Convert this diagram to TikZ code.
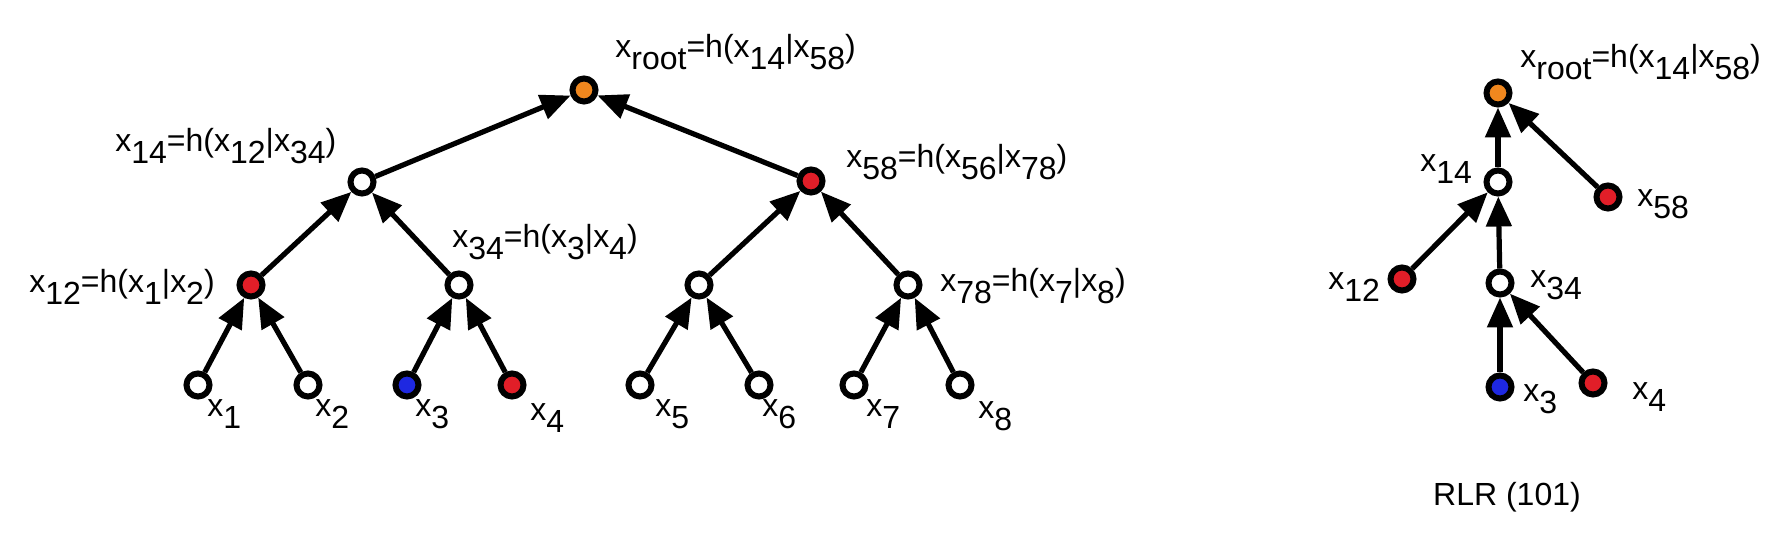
\documentclass[tikz,border=0pt]{standalone}
\usepackage{fontspec}
\setmainfont{Liberation Sans}
\usetikzlibrary{arrows.meta}
\definecolor{nred}{RGB}{225,30,40}
\definecolor{norange}{RGB}{240,135,30}
\definecolor{nblue}{RGB}{30,40,225}
\newcommand\sbs[1]{\raisebox{-0.35em}{#1}}
\begin{document}
\begin{tikzpicture}[x=0.5pt,y=-0.5pt,
  vtx/.style={circle,draw=black,line width=3pt,minimum size=11.5pt,inner sep=0pt},
  wv/.style={vtx,fill=white},
  rv/.style={vtx,fill=nred},
  ov/.style={vtx,fill=norange},
  bv/.style={vtx,fill=nblue},
  conn/.style={line width=2.6pt,-{Triangle[length=15pt,width=12.5pt]}},
  lbl/.style={anchor=base west,inner sep=0pt,font=\fontsize{16pt}{18pt}\selectfont}]
\useasboundingbox (0,0) rectangle (1785,539);
% left tree
\node[ov] (root) at (584,90) {};
\node[wv] (a14) at (362,182) {};
\node[rv] (a58) at (811,181) {};
\node[rv] (a12) at (251,285) {};
\node[wv] (a34) at (459,285) {};
\node[wv] (a56) at (699,285) {};
\node[wv] (a78) at (908,285) {};
\node[wv] (l1) at (198,385) {};
\node[wv] (l2) at (308,385) {};
\node[bv] (l3) at (407,385) {};
\node[rv] (l4) at (512,385) {};
\node[wv] (l5) at (640,385) {};
\node[wv] (l6) at (759,385) {};
\node[wv] (l7) at (854,385) {};
\node[wv] (l8) at (960,385) {};
\draw[conn] (a14) -- (root);
\draw[conn] (a58) -- (root);
\draw[conn] (a12) -- (a14);
\draw[conn] (a34) -- (a14);
\draw[conn] (a56) -- (a58);
\draw[conn] (a78) -- (a58);
\draw[conn] (l1) -- (a12);
\draw[conn] (l2) -- (a12);
\draw[conn] (l3) -- (a34);
\draw[conn] (l4) -- (a34);
\draw[conn] (l5) -- (a56);
\draw[conn] (l6) -- (a56);
\draw[conn] (l7) -- (a78);
\draw[conn] (l8) -- (a78);
\node[lbl] (troot) at (615,58) {x\sbs{root}=h(x\sbs{14}|x\sbs{58})};
\node[lbl] (t14) at (115,152) {x\sbs{14}=h(x\sbs{12}|x\sbs{34})};
\node[lbl] (t58) at (846,168) {x\sbs{58}=h(x\sbs{56}|x\sbs{78})};
\node[lbl] (t12) at (29,293) {x\sbs{12}=h(x\sbs{1}|x\sbs{2})};
\node[lbl] (t34) at (452,248) {x\sbs{34}=h(x\sbs{3}|x\sbs{4})};
\node[lbl] (t78) at (940,292) {x\sbs{78}=h(x\sbs{7}|x\sbs{8})};
\node[lbl] (tl1) at (207,417) {x\sbs{1}};
\node[lbl] (tl2) at (315,417) {x\sbs{2}};
\node[lbl] (tl3) at (415,417) {x\sbs{3}};
\node[lbl] (tl4) at (530,421) {x\sbs{4}};
\node[lbl] (tl5) at (655,417) {x\sbs{5}};
\node[lbl] (tl6) at (762,417) {x\sbs{6}};
\node[lbl] (tl7) at (866,417) {x\sbs{7}};
\node[lbl] (tl8) at (978,419) {x\sbs{8}};
% right tree
\node[ov] (broot) at (1498,93) {};
\node[wv] (b14) at (1498,182) {};
\node[rv] (b58) at (1608,197) {};
\node[rv] (b12) at (1402,279) {};
\node[wv] (b34) at (1500,283) {};
\node[bv] (b3) at (1500,387) {};
\node[rv] (b4) at (1593,383) {};
\draw[conn] (b14) -- (broot);
\draw[conn] (b58) -- (broot);
\draw[conn] (b12) -- (b14);
\draw[conn] (b34) -- (b14);
\draw[conn] (b3) -- (b34);
\draw[conn] (b4) -- (b34);
\node[lbl] (uroot) at (1520,68) {x\sbs{root}=h(x\sbs{14}|x\sbs{58})};
\node[lbl] (u14) at (1420,172) {x\sbs{14}};
\node[lbl] (u58) at (1637,207) {x\sbs{58}};
\node[lbl] (u12) at (1328,290) {x\sbs{12}};
\node[lbl] (u34) at (1530,288) {x\sbs{34}};
\node[lbl] (u3) at (1523,402) {x\sbs{3}};
\node[lbl] (u4) at (1632,400) {x\sbs{4}};
\node[font=\fontsize{16pt}{18pt}\selectfont,inner sep=0pt] (cap) at (1507,497) {RLR (101)};
\end{tikzpicture}
\end{document}
